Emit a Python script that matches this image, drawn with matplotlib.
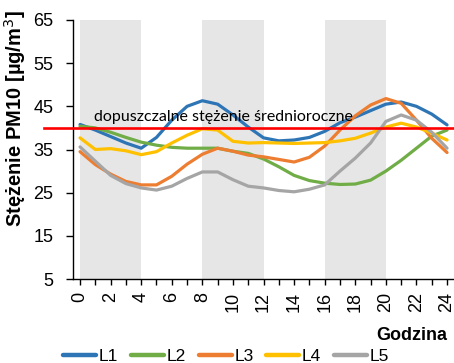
import matplotlib
matplotlib.use("Agg")
import matplotlib.pyplot as plt
from matplotlib.lines import Line2D

plt.rcParams['font.family'] = ['Liberation Sans', 'DejaVu Sans']

# Hourly mean PM10 concentrations at five locations
hours = list(range(25))
L1 = [40.8, 39.5, 38.0, 36.5, 35.3, 37.8, 41.8, 45.0, 46.3, 45.5, 43.0, 40.2, 37.7,
      37.0, 37.2, 37.8, 39.2, 41.2, 42.5, 44.0, 45.5, 46.0, 45.0, 43.2, 40.7]
L2 = [40.4, 40.0, 39.0, 37.8, 36.7, 36.0, 35.5, 35.3, 35.3, 35.3, 34.6, 34.1, 32.8,
      31.0, 29.0, 27.8, 27.2, 26.9, 27.0, 27.9, 30.0, 32.5, 35.3, 38.1, 39.5]
L3 = [34.5, 31.5, 29.3, 27.6, 26.8, 26.8, 28.8, 31.6, 33.9, 35.3, 34.6, 33.7, 33.3,
      32.7, 32.1, 33.2, 35.8, 39.5, 42.8, 45.3, 46.8, 45.7, 41.8, 37.6, 34.3]
L4 = [37.7, 35.0, 35.2, 34.7, 33.8, 34.5, 36.5, 38.3, 39.8, 39.5, 36.9, 36.5, 36.6,
      36.5, 36.4, 36.5, 36.6, 37.0, 37.6, 38.8, 40.2, 41.1, 40.2, 38.8, 37.2]
L5 = [35.6, 32.3, 29.0, 27.1, 26.1, 25.6, 26.5, 28.3, 29.8, 29.8, 28.0, 26.5, 26.1,
      25.5, 25.2, 25.8, 26.8, 30.0, 33.0, 36.5, 41.5, 43.0, 41.8, 39.0, 35.3]

series = [("L1", L1), ("L2", L2), ("L3", L3), ("L4", L4), ("L5", L5)]
colors = ["#2E75B6", "#70AD47", "#ED7D31", "#FFC000", "#A5A5A5"]

# Shaded hour ranges and the permissible annual mean
bands = [(0, 4), (8, 12), (16, 20)]
limit = 40
limit_label = "dopuszczalne stężenie średnioroczne"

y_ticks = [5, 15, 25, 35, 45, 55, 65]
x_labels = list(range(0, 25, 2))

W, H = 454, 363
fig = plt.figure(figsize=(W / 100, H / 100), dpi=100)
ax = fig.add_axes([73 / W, 1 - 279 / H, (453 - 73) / W, (279 - 20) / H])

for a, b in bands:
    ax.axvspan(a, b, color="#E6E6E6", lw=0, zorder=0)

for (name, vals), c in zip(series, colors):
    ax.plot(hours, vals, color=c, lw=2.3, label=name, zorder=3,
            solid_capstyle="round", solid_joinstyle="round")

ax.plot([-2.35, 24.6], [limit, limit], color="#FF0000", lw=1.9, zorder=4, clip_on=False)
ax.text(0.9, 42.6, limit_label, family=["Lato", "DejaVu Sans"], fontsize=11.5,
        va="center", ha="left", color="#000000", zorder=5)

ax.set_xlim(-0.46, 24.39)
ax.set_ylim(5, 65)
ax.set_yticks(y_ticks)
ax.set_xticks(hours, minor=True)
ax.set_xticks(x_labels)
ax.set_xticklabels([str(v) for v in x_labels], rotation=90)
ax.tick_params(axis="x", which="both", direction="out", length=4, width=1,
               color="#000000", labelsize=13, pad=5)
ax.tick_params(axis="y", direction="out", length=5, width=1, color="#000000",
               labelsize=13, pad=9)

for s in ("top", "right"):
    ax.spines[s].set_visible(False)
ax.spines["left"].set_color("#000000")
ax.spines["bottom"].set_color("#000000")
ax.spines["left"].set_linewidth(1)
ax.spines["bottom"].set_linewidth(1)

fig.text(15 / W, 1 - 119 / H, "Stężenie PM10 [µg/m$^3$]", rotation=90,
         fontsize=14.5, fontweight="bold", ha="center", va="center")
fig.text(447 / W, 1 - 335 / H, "Godzina", fontsize=13, fontweight="bold",
         ha="right", va="center")

handles = [Line2D([], [], color=c, lw=3.2, solid_capstyle="round") for c in colors]
fig.legend(handles, [n for n, _ in series], loc="center", ncol=5,
           bbox_to_anchor=(226 / W, 1 - 356 / H), frameon=False, fontsize=12.5,
           handlelength=1.9, handletextpad=0.15, columnspacing=0.75,
           borderpad=0, borderaxespad=0)

fig.savefig("out.png", dpi=100)
